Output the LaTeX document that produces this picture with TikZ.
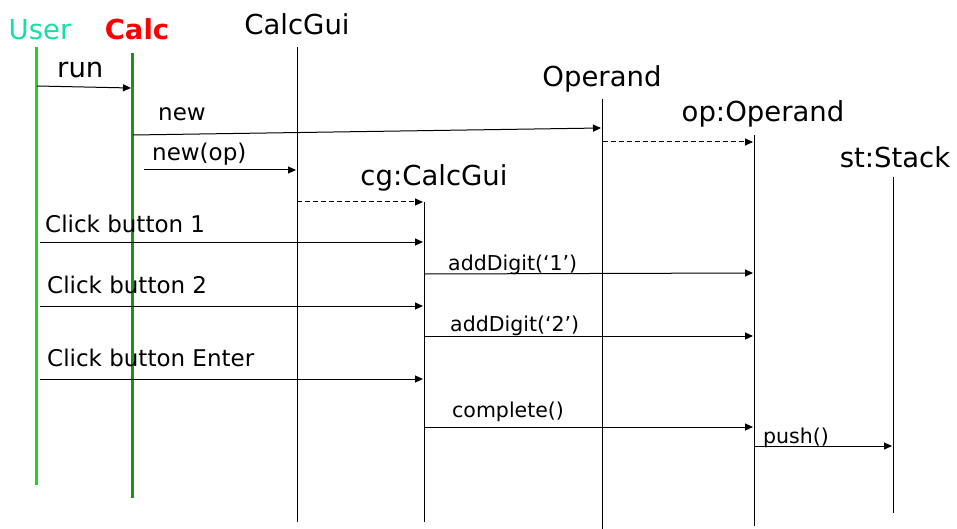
\documentclass[tikz,border=0pt]{standalone}
\usepackage{fontspec}
\setmainfont{DejaVu Sans}
\usetikzlibrary{arrows.meta}

\definecolor{usertext}{RGB}{20,224,165}
\definecolor{userline}{RGB}{34,212,34}
\definecolor{calcline}{RGB}{22,150,22}

\tikzset{
  head/.style={font=\fontsize{27.5}{30}\selectfont, inner sep=0pt, anchor=base},
  msglbl/.style={font=\fontsize{23}{25}\selectfont, inner sep=0pt, anchor=base west},
  smalllbl/.style={font=\fontsize{20.5}{22}\selectfont, inner sep=0pt, anchor=base west},
  life/.style={line width=0.9pt},
  msg/.style={line width=1pt, -{Triangle[length=8pt,width=7pt]}},
  reply/.style={msg, dash pattern=on 5pt off 3pt}
}

\begin{document}
\begin{tikzpicture}[x=1pt,y=-1pt]
            \useasboundingbox (0,0) rectangle (957,529);

            % Objects
            \node[head, text=usertext] (user) at (40,40) {User};
            \node[head, text=red, font=\fontsize{27.5}{30}\selectfont\bfseries] (calc) at (137,40) {Calc};
            \node[head] (calcgui) at (297,35) {CalcGui};
            \node[head] (operand) at (602,87) {Operand};
            \node[head] (op) at (763,122) {op:Operand};
            \node[head] (cg) at (434,186) {cg:CalcGui};
            \node[head] (st) at (895,168) {st:Stack};

            % Lifelines
            \coordinate (user top) at (36,47);   \coordinate (user bot) at (36,485);
            \coordinate (calc top) at (132,53);  \coordinate (calc bot) at (132,498);
            \coordinate (calcgui top) at (297,47); \coordinate (calcgui bot) at (297,522);
            \coordinate (operand top) at (602,99); \coordinate (operand bot) at (602,529);
            \coordinate (op top) at (754,135);   \coordinate (op bot) at (754,526);
            \coordinate (cg top) at (424,202);   \coordinate (cg bot) at (424,522);
            \coordinate (st top) at (893,177);   \coordinate (st bot) at (893,513);

            \draw[userline, line width=3pt] (user top) -- (user bot);
            \draw[calcline, line width=3pt] (calc top) -- (calc bot);
            \draw[life] (calcgui top) -- (calcgui bot);
            \draw[life] (operand top) -- (operand bot);
            \draw[life] (op top) -- (op bot);
            \draw[life] (cg top) -- (cg bot);
            \draw[life] (st top) -- (st bot);

            % Messages
            \coordinate (m1a) at (37,86);   \coordinate (m1b) at (131,88);
            \coordinate (m2a) at (133,135); \coordinate (m2b) at (601,128);
            \coordinate (m3a) at (144,170); \coordinate (m3b) at (296,170);
            \coordinate (r1a) at (603,142); \coordinate (r1b) at (753,142);
            \coordinate (r2a) at (297,202); \coordinate (r2b) at (423,202);
            \coordinate (m4a) at (40,242);  \coordinate (m4b) at (423,242);
            \coordinate (m5a) at (425,274); \coordinate (m5b) at (753,273);
            \coordinate (m6a) at (40,306);  \coordinate (m6b) at (423,306);
            \coordinate (m7a) at (425,336); \coordinate (m7b) at (753,336);
            \coordinate (m8a) at (40,379);  \coordinate (m8b) at (423,379);
            \coordinate (m9a) at (425,427); \coordinate (m9b) at (753,427);
            \coordinate (m10a) at (755,446); \coordinate (m10b) at (892,446);

            \draw[msg] (m1a) -- (m1b);
            \draw[msg] (m2a) -- (m2b);
            \draw[msg] (m3a) -- (m3b);
            \draw[reply] (r1a) -- (r1b);
            \draw[reply] (r2a) -- (r2b);
            \draw[msg] (m4a) -- (m4b);
            \draw[msg] (m5a) -- (m5b);
            \draw[msg] (m6a) -- (m6b);
            \draw[msg] (m7a) -- (m7b);
            \draw[msg] (m8a) -- (m8b);
            \draw[msg] (m9a) -- (m9b);
            \draw[msg] (m10a) -- (m10b);

            % Labels
            \node[head, anchor=base west] (l1) at (57,78) {run};
            \node[msglbl] (l2) at (158,121) {new};
            \node[msglbl] (l3) at (152,161) {new(op)};
            \node[msglbl] (l4) at (45,233) {Click button 1};
            \node[smalllbl] (l5) at (448,270) {addDigit(‘1’)};
            \node[msglbl] (l6) at (47,293) {Click button 2};
            \node[smalllbl] (l7) at (450,331) {addDigit(‘2’)};
            \node[msglbl] (l8) at (47,366) {Click button Enter};
            \node[smalllbl] (l9) at (452,417) {complete()};
            \node[smalllbl] (l10) at (763,443) {push()};
\end{tikzpicture}
\end{document}
